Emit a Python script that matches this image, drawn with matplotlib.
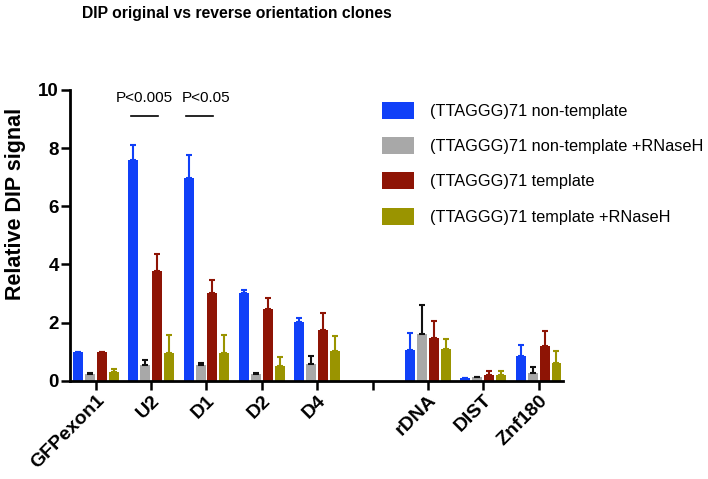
import matplotlib
matplotlib.use("Agg")
import matplotlib.pyplot as plt
import numpy as np

plt.rcParams['font.family'] = ['Liberation Sans', 'DejaVu Sans']

categories = ["GFPexon1", "U2", "D1", "D2", "D4", "", "rDNA", "DIST", "Znf180"]
series_names = ["(TTAGGG)71 non-template",
                "(TTAGGG)71 non-template +RNaseH",
                "(TTAGGG)71 template",
                "(TTAGGG)71 template +RNaseH"]

nontemplate       = [1.00, 7.60, 6.97, 3.01, 2.02, np.nan, 1.04, 0.10, 0.84]
nontemplate_err   = [0.00, 0.51, 0.81, 0.11, 0.13, np.nan, 0.59, 0.00, 0.38]
nontemplate_rh    = [0.22, 0.55, 0.54, 0.23, 0.57, np.nan, 1.62, 0.12, 0.26]
nontemplate_rh_err= [0.06, 0.17, 0.06, 0.03, 0.27, np.nan, 0.98, 0.02, 0.20]
template          = [1.00, 3.76, 3.00, 2.47, 1.73, np.nan, 1.47, 0.19, 1.20]
template_err      = [0.00, 0.59, 0.45, 0.37, 0.60, np.nan, 0.59, 0.13, 0.52]
template_rh       = [0.30, 0.97, 0.97, 0.49, 1.02, np.nan, 1.08, 0.21, 0.60]
template_rh_err   = [0.10, 0.61, 0.61, 0.31, 0.53, np.nan, 0.34, 0.11, 0.41]

pvals = ["P<0.005", "P<0.05"]
pval_cats = [1, 2]

colors = ["#1040F8", "#A8A8A8", "#8E1405", "#9A9400"]
err_colors = ["#1040F8", "#111111", "#8E1405", "#9A9400"]

fig = plt.figure(figsize=(7.08, 4.79), dpi=100)
ax = fig.add_axes([0.0985, 0.2052, 0.6967, 0.607])

x = np.arange(len(categories))
step = 0.215
width = 0.18
vals = [nontemplate, nontemplate_rh, template, template_rh]
errs = [nontemplate_err, nontemplate_rh_err, template_err, template_rh_err]
for i, (v, e) in enumerate(zip(vals, errs)):
    pos = x + (i - 1.5) * step
    v = np.array(v, dtype=float)
    e = np.array(e, dtype=float)
    ax.bar(pos, v, width=width, color=colors[i], label=series_names[i], zorder=2)
    ax.errorbar(pos, v, yerr=[np.zeros_like(e), e], fmt='none', ecolor=err_colors[i],
                elinewidth=1.5, capsize=2.5, capthick=1.5, zorder=3)

# significance annotations
text_shift = [-0.12, -0.01]
for label, c, s in zip(pvals, pval_cats, text_shift):
    ax.plot([c - 0.37, c + 0.12], [9.1, 9.1], color='black', lw=1.2, clip_on=False)
    ax.text(c + s, 9.72, label, ha='center', va='center', fontsize=11)

ax.set_xlim(-0.47, 8.44)
ax.set_ylim(0, 10)
ax.set_yticks([0, 2, 4, 6, 8, 10])
ax.set_xticks(x)
ax.set_xticklabels(categories, rotation=45, ha='right', rotation_mode='anchor',
                   fontsize=14, fontweight='bold')
for t in ax.get_yticklabels():
    t.set_fontsize(13.5)
    t.set_fontweight('bold')
ax.tick_params(axis='both', direction='out', length=6.5, width=1.8, pad=1.5)
ax.spines['top'].set_visible(False)
ax.spines['right'].set_visible(False)
ax.spines['left'].set_linewidth(2)
ax.spines['bottom'].set_linewidth(2)
ax.set_ylabel("Relative DIP signal", fontsize=15.5, fontweight='bold')
ax.yaxis.set_label_coords(-0.088, 0.607)

leg = fig.legend(loc='upper left', bbox_to_anchor=(0.5303, 0.800), frameon=False,
                 borderaxespad=0, fontsize=11.8, handlelength=1.95, handleheight=1.22,
                 labelspacing=1.1, handletextpad=0.98)

fig.text(0.334, 0.972, "DIP original vs reverse orientation clones", ha='center', va='center',
         fontsize=11.3, fontweight='bold')

fig.savefig("out.png", dpi=100)
